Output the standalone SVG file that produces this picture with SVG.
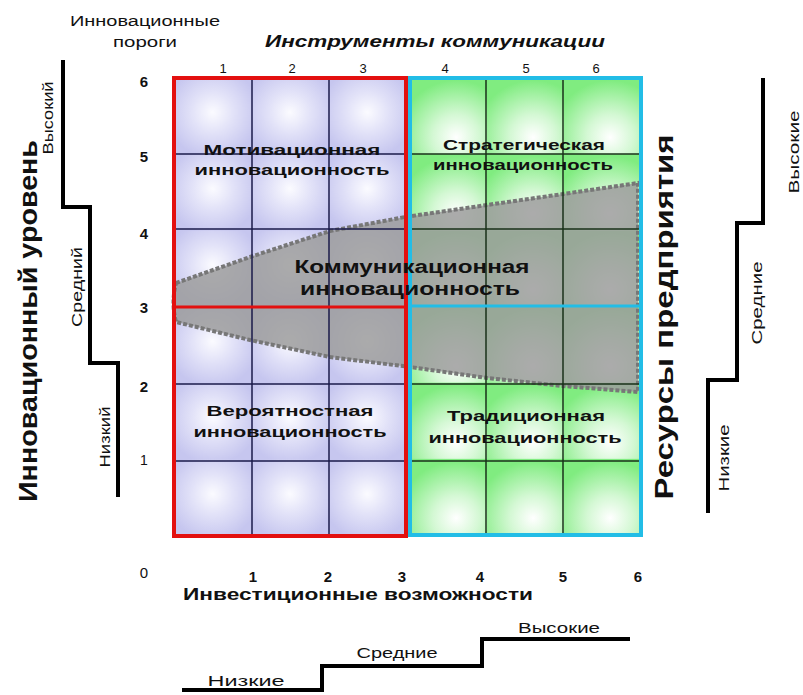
<svg xmlns="http://www.w3.org/2000/svg" width="803" height="695" viewBox="0 0 803 695">
<style>
.t{font-family:"Liberation Sans",Arial,sans-serif;fill:#111}
.b{font-weight:bold}
.lbl{font-family:"Liberation Sans",Arial,sans-serif;font-weight:bold;font-size:15px;fill:#111;text-anchor:middle}
.num{font-family:"Liberation Sans",Arial,sans-serif;font-weight:bold;font-size:15px;fill:#111;text-anchor:middle}
.tn{font-family:"Liberation Sans",Arial,sans-serif;font-size:13px;fill:#111;text-anchor:middle}
.sm{font-family:"Liberation Sans",Arial,sans-serif;font-size:14px;fill:#111;text-anchor:middle}
.step{fill:none;stroke:#000;stroke-width:4}
.gl{stroke:#1a1a4a;stroke-width:1.5}
.gg{stroke:#183018;stroke-width:1.5}
</style>
<defs>
<radialGradient id="lav" cx="0.5" cy="0.45" r="0.6">
<stop offset="0" stop-color="#fbfbff"/>
<stop offset="0.45" stop-color="#e2e2f8"/>
<stop offset="1" stop-color="#c6c6ef"/>
</radialGradient>
<radialGradient id="grn" cx="0.6" cy="0.78" r="0.75">
<stop offset="0" stop-color="#ffffff"/>
<stop offset="0.4" stop-color="#d4f8d4"/>
<stop offset="1" stop-color="#80ec80"/>
</radialGradient>
<pattern id="pl" patternUnits="userSpaceOnUse" x="174" y="78" width="77.33" height="76.33">
<rect width="77.33" height="76.33" fill="url(#lav)"/>
</pattern>
<pattern id="pg" patternUnits="userSpaceOnUse" x="410" y="78" width="77" height="76.17">
<rect width="77" height="76.17" fill="url(#grn)"/>
</pattern>
</defs>
<rect width="803" height="695" fill="#fff"/>

<g id="quadrant-left">
<rect x="174" y="78" width="232" height="458" fill="url(#pl)"/>
</g>
<g id="quadrant-right">
<rect x="410" y="78" width="231" height="457" fill="url(#pg)"/>
</g>

<g id="communication-band">
<path d="M176,283 L250,257 L330,231 L405,217 L487,205 L563,194 L638,183 L638,392 L563,386 L487,378 L410,367 L330,357 L250,340 L176,322 Q171,303 176,283 Z" fill="#9c9c9c" fill-opacity="0.85" stroke="#777" stroke-width="4" stroke-dasharray="4 2"/>
</g>

<g id="grid">
<line class="gl" x1="252" y1="78" x2="252" y2="536"/>
<line class="gl" x1="329" y1="78" x2="329" y2="536"/>
<line class="gl" x1="174" y1="154" x2="406" y2="154"/>
<line class="gl" x1="174" y1="229" x2="406" y2="229"/>
<line class="gl" x1="174" y1="384" x2="406" y2="384"/>
<line class="gl" x1="174" y1="461" x2="406" y2="461"/>
<line class="gg" x1="486" y1="78" x2="486" y2="535"/>
<line class="gg" x1="563" y1="78" x2="563" y2="535"/>
<line class="gg" x1="410" y1="154" x2="641" y2="154"/>
<line class="gg" x1="410" y1="229" x2="641" y2="229"/>
<line class="gg" x1="410" y1="384" x2="641" y2="384"/>
<line class="gg" x1="410" y1="461" x2="641" y2="461"/>
</g>

<g id="borders">
<rect x="174" y="78" width="232" height="458" fill="none" stroke="#e3100f" stroke-width="4"/>
<line x1="174" y1="307" x2="406" y2="307" stroke="#e3100f" stroke-width="3"/>
<rect x="410" y="78" width="231" height="457" fill="none" stroke="#22bde6" stroke-width="4"/>
<line x1="410" y1="306" x2="641" y2="306" stroke="#22bde6" stroke-width="3"/>
</g>

<g id="label-motivation">
<text class="lbl" x="292" y="155" textLength="177" lengthAdjust="spacingAndGlyphs">Мотивационная</text>
<text class="lbl" x="292" y="175" textLength="195" lengthAdjust="spacingAndGlyphs">инновационность</text>
</g>
<g id="label-strategic">
<text class="lbl" x="524" y="150" textLength="162" lengthAdjust="spacingAndGlyphs">Стратегическая</text>
<text class="lbl" x="523" y="170" textLength="180" lengthAdjust="spacingAndGlyphs">инновационность</text>
</g>
<g id="label-communication">
<text class="lbl" x="412" y="273" style="font-size:18px" textLength="235" lengthAdjust="spacingAndGlyphs">Коммуникационная</text>
<text class="lbl" x="410" y="295" style="font-size:18px" textLength="220" lengthAdjust="spacingAndGlyphs">инновационность</text>
</g>
<g id="label-probable">
<text class="lbl" x="290" y="416" textLength="167" lengthAdjust="spacingAndGlyphs">Вероятностная</text>
<text class="lbl" x="290" y="437" textLength="193" lengthAdjust="spacingAndGlyphs">инновационность</text>
</g>
<g id="label-traditional">
<text class="lbl" x="526" y="421" textLength="158" lengthAdjust="spacingAndGlyphs">Традиционная</text>
<text class="lbl" x="525" y="443" textLength="193" lengthAdjust="spacingAndGlyphs">инновационность</text>
</g>

<g id="top-axis">
<text class="sm" x="145" y="26" textLength="150" lengthAdjust="spacingAndGlyphs">Инновационные</text>
<text class="sm" x="145" y="47" textLength="64" lengthAdjust="spacingAndGlyphs">пороги</text>
<text class="t b" x="265" y="47" font-size="17" font-style="italic" textLength="340" lengthAdjust="spacingAndGlyphs">Инструменты коммуникации</text>
<text class="tn" x="223" y="73">1</text>
<text class="tn" x="292" y="73">2</text>
<text class="tn" x="363" y="73">3</text>
<text class="tn" x="445" y="73">4</text>
<text class="tn" x="526" y="73">5</text>
<text class="tn" x="596" y="73">6</text>
</g>

<g id="left-axis">
<text class="num" x="144" y="87">6</text>
<text class="num" x="144" y="162">5</text>
<text class="num" x="144" y="239">4</text>
<text class="num" x="144" y="313">3</text>
<text class="num" x="144" y="392">2</text>
<text class="tn" x="144" y="465" style="font-size:14px">1</text>
<text class="tn" x="144" y="578" style="font-size:15px">0</text>
<text class="t b" font-size="26" text-anchor="middle" transform="translate(37,321) rotate(-90)" textLength="362" lengthAdjust="spacingAndGlyphs">Инновационный уровень</text>
<path class="step" d="M63,60 V207 H90 V363 H118 V497"/>
<text class="sm" transform="translate(53,118) rotate(-90)" textLength="73" lengthAdjust="spacingAndGlyphs">Высокий</text>
<text class="sm" transform="translate(82,287) rotate(-90)" textLength="80" lengthAdjust="spacingAndGlyphs">Средний</text>
<text class="sm" transform="translate(110,437) rotate(-90)" textLength="61" lengthAdjust="spacingAndGlyphs">Низкий</text>
</g>

<g id="right-axis">
<text class="t b" font-size="25" text-anchor="middle" transform="translate(673,317) rotate(-90)" textLength="365" lengthAdjust="spacingAndGlyphs">Ресурсы предприятия</text>
<path class="step" d="M763,78 V223 H737 V380 H708 V513"/>
<text class="sm" transform="translate(799,152) rotate(-90)" textLength="83" lengthAdjust="spacingAndGlyphs">Высокие</text>
<text class="sm" transform="translate(762,303) rotate(-90)" textLength="83" lengthAdjust="spacingAndGlyphs">Средние</text>
<text class="sm" transform="translate(729,458) rotate(-90)" textLength="67" lengthAdjust="spacingAndGlyphs">Низкие</text>
</g>

<g id="bottom-axis">
<text class="num" x="253" y="582">1</text>
<text class="num" x="328" y="582">2</text>
<text class="num" x="402" y="582">3</text>
<text class="num" x="480" y="582">4</text>
<text class="num" x="563" y="582">5</text>
<text class="num" x="638" y="582">6</text>
<text class="t b" x="183" y="600" font-size="17" textLength="350" lengthAdjust="spacingAndGlyphs">Инвестиционные возможности</text>
<path class="step" d="M182,690 H322 V666 H482 V639 H630"/>
<text class="sm" x="246" y="686" textLength="77" lengthAdjust="spacingAndGlyphs">Низкие</text>
<text class="sm" x="397" y="658" textLength="81" lengthAdjust="spacingAndGlyphs">Средние</text>
<text class="sm" x="559" y="633" textLength="82" lengthAdjust="spacingAndGlyphs">Высокие</text>
</g>
</svg>
